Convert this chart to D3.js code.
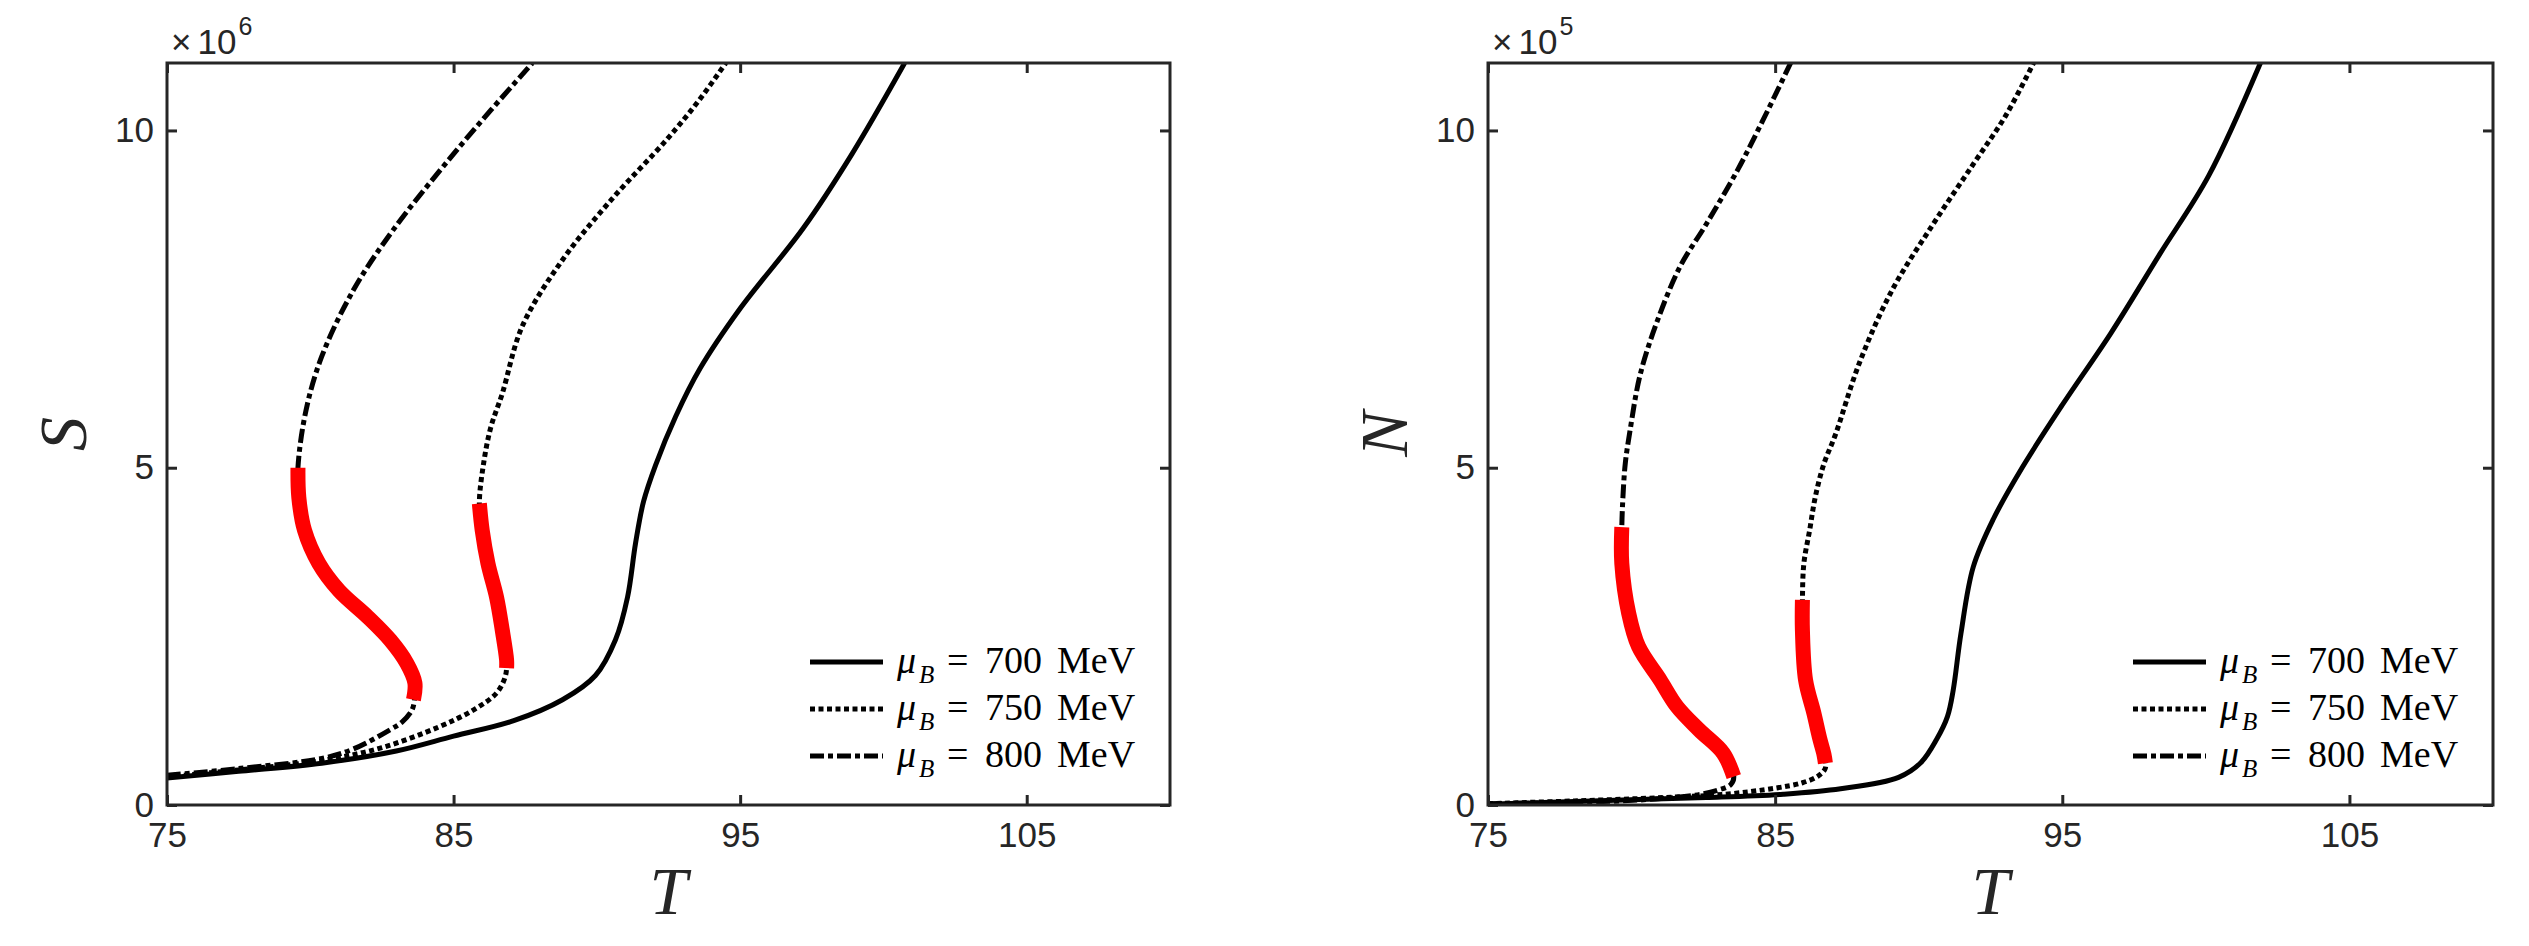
<!DOCTYPE html>
<html>
<head>
<meta charset="utf-8">
<script src="https://cdn.jsdelivr.net/npm/d3@7"></script>
<style>
  body { margin: 0; background: #fff; }
  svg { display: block; }
</style>
</head>
<body>
<svg id="chart" width="2529" height="946"></svg>
<script>
// tick values / legend text
const xTicks = [75, 85, 95, 105];
const yTicks = [0, 5, 10];
const legendValues = ["700", "750", "800"];

// left panel : S (x 10^6) vs T
const sT700 = [75, 77.5, 80.4, 83, 85, 87.1, 88.8, 89.95, 90.65, 91.07, 91.35, 91.63, 92.05, 92.75, 93.6, 95.0, 97.2, 98.9, 100.74];
const sS700 = [0.40, 0.50, 0.62, 0.80, 1.02, 1.25, 1.56, 1.92, 2.45, 3.08, 3.88, 4.50, 5.04, 5.76, 6.47, 7.36, 8.55, 9.65, 11.0];

const sT750 = [75, 77.5, 80.4, 82.5, 84.5, 85.7, 86.5, 86.8, 86.85, 86.7, 86.5, 86.2, 86.0, 85.9, 86.05, 86.3, 86.7, 87.4, 88.8, 90.5, 92.45, 93.57, 94.5];
const sS750 = [0.42, 0.52, 0.66, 0.85, 1.16, 1.41, 1.66, 1.90, 2.10, 2.59, 3.08, 3.58, 4.07, 4.47, 5.07, 5.60, 6.10, 7.10, 8.08, 8.97, 9.87, 10.45, 11.0];
const sRedT750 = [86.85, 86.85, 86.7, 86.5, 86.2, 86.0, 85.9];
const sRedS750 = [2.03, 2.15, 2.59, 3.08, 3.58, 4.07, 4.47];

const sT800 = [75, 77.5, 80.4, 81.5, 82.8, 83.2, 83.55, 83.65, 83.65, 83.37, 82.8, 82.0, 81.0, 80.3, 79.8, 79.6, 79.57, 79.85, 80.4, 81.5, 82.9, 84.9, 86.3, 87.75];
const sS800 = [0.44, 0.54, 0.69, 0.83, 1.12, 1.23, 1.41, 1.62, 1.81, 2.10, 2.44, 2.79, 3.18, 3.58, 4.07, 4.56, 5.00, 5.85, 6.65, 7.63, 8.53, 9.60, 10.30, 11.0];
const sRedT800 = [83.6, 83.65, 83.37, 82.8, 82.0, 81.0, 80.3, 79.8, 79.6, 79.57];
const sRedS800 = [1.56, 1.81, 2.10, 2.44, 2.79, 3.18, 3.58, 4.07, 4.56, 5.00];

// right panel : N (x 10^5) vs T
const nT700 = [75, 78.6, 82.6, 85.28, 87.28, 89.3, 90.08, 90.62, 91.0, 91.2, 91.47, 91.9, 92.6, 93.6, 95.0, 96.7, 98.4, 100.1, 101.9];
const nN700 = [0.01, 0.06, 0.11, 0.16, 0.24, 0.41, 0.63, 0.97, 1.31, 1.70, 2.54, 3.53, 4.24, 5.00, 5.93, 7.00, 8.17, 9.33, 11.0];

const nT750 = [75, 78, 81.1, 83.27, 85.0, 85.95, 86.5, 86.75, 86.7, 86.55, 86.35, 86.06, 85.95, 85.95, 86.0, 86.2, 86.4, 86.7, 87.1, 87.94, 89.07, 90.5, 91.9, 93.03, 94.0];
const nN750 = [0.02, 0.06, 0.11, 0.16, 0.25, 0.33, 0.43, 0.55, 0.75, 0.99, 1.36, 1.85, 2.59, 3.04, 3.58, 4.07, 4.57, 5.06, 5.49, 6.56, 7.63, 8.61, 9.50, 10.22, 11.0];
const nRedT750 = [86.75, 86.7, 86.55, 86.35, 86.06, 85.95, 85.95];
const nRedN750 = [0.62, 0.75, 0.99, 1.36, 1.85, 2.59, 3.04];

const nT800 = [75, 78, 80.5, 82.3, 83.0, 83.45, 83.56, 83.19, 82.36, 81.58, 81.0, 80.24, 79.9, 79.66, 79.66, 79.7, 79.78, 79.95, 80.3, 80.9, 81.7, 82.6, 83.7, 84.55, 85.54];
const nN800 = [0.02, 0.04, 0.08, 0.15, 0.22, 0.30, 0.42, 0.77, 1.11, 1.46, 1.85, 2.35, 2.84, 3.58, 4.12, 4.57, 5.06, 5.56, 6.38, 7.18, 7.99, 8.61, 9.42, 10.13, 11.0];
const nRedT800 = [83.56, 83.19, 82.36, 81.58, 81.0, 80.24, 79.9, 79.66, 79.66];
const nRedN800 = [0.42, 0.77, 1.11, 1.46, 1.85, 2.35, 2.84, 3.58, 4.12];

const axisColor = "#262626";
const sansFont = "Liberation Sans, Arial, sans-serif";
const serifFont = "Liberation Serif, Times New Roman, serif";
const dashes = [null, "5,3.5", "14,4,5,4"];

const svg = d3.select("#chart");
svg.append("rect").attr("width", 2529).attr("height", 946).attr("fill", "#fff");

function zip(a, b) { return a.map((d, i) => [d, b[i]]); }

function drawPanel(opts) {
    var x = d3.scaleLinear().domain([75, 110]).range([opts.left, opts.right]);
    var y = d3.scaleLinear().domain([0, 11]).range([805, 63]);

    var g = svg.append("g");
    var clipId = "clip" + opts.name;
    g.append("clipPath").attr("id", clipId)
      .append("rect")
        .attr("x", x(75)).attr("y", y(11))
        .attr("width", x(110) - x(75)).attr("height", y(0) - y(11));

    var line = d3.line()
        .x(d => x(d[0]))
        .y(d => y(d[1]))
        .curve(d3.curveCatmullRom.alpha(0.5));

    var plot = g.append("g").attr("clip-path", "url(#" + clipId + ")");

    // black curves
    opts.curves.forEach((c, i) => {
        plot.append("path")
            .datum(zip(c[0], c[1]))
            .attr("fill", "none")
            .attr("stroke", "#000")
            .attr("stroke-width", 5)
            .attr("stroke-dasharray", dashes[i])
            .attr("d", line);
    });

    // red unstable branches
    opts.red.forEach(c => {
        plot.append("path")
            .datum(zip(c[0], c[1]))
            .attr("fill", "none")
            .attr("stroke", "#ff0000")
            .attr("stroke-width", 15)
            .attr("d", line);
    });

    // axes, ticks inside on all four sides
    g.append("g")
        .attr("transform", "translate(0," + y(0) + ")")
        .call(d3.axisBottom(x).tickValues(xTicks).tickSizeInner(-10).tickSizeOuter(0).tickPadding(17))
        .call(a => a.select(".domain").remove())
        .call(a => a.selectAll("line").attr("stroke", axisColor).attr("stroke-width", 3))
        .call(a => a.selectAll("text").attr("fill", axisColor).attr("font-family", sansFont).attr("font-size", 35).attr("dy", "0.71em"));
    g.append("g")
        .attr("transform", "translate(0," + y(11) + ")")
        .call(d3.axisTop(x).tickValues(xTicks).tickSizeInner(-10).tickSizeOuter(0).tickFormat(""))
        .call(a => a.select(".domain").remove())
        .call(a => a.selectAll("line").attr("stroke", axisColor).attr("stroke-width", 3));
    g.append("g")
        .attr("transform", "translate(" + x(75) + ",0)")
        .call(d3.axisLeft(y).tickValues(yTicks).tickSizeInner(-10).tickSizeOuter(0).tickPadding(13))
        .call(a => a.select(".domain").remove())
        .call(a => a.selectAll("line").attr("stroke", axisColor).attr("stroke-width", 3))
        .call(a => a.selectAll("text").attr("fill", axisColor).attr("font-family", sansFont).attr("font-size", 35));
    g.append("g")
        .attr("transform", "translate(" + x(110) + ",0)")
        .call(d3.axisRight(y).tickValues(yTicks).tickSizeInner(-10).tickSizeOuter(0).tickFormat(""))
        .call(a => a.select(".domain").remove())
        .call(a => a.selectAll("line").attr("stroke", axisColor).attr("stroke-width", 3));

    // box
    g.append("rect")
        .attr("x", x(75)).attr("y", y(11))
        .attr("width", x(110) - x(75)).attr("height", y(0) - y(11))
        .attr("fill", "none")
        .attr("stroke", axisColor)
        .attr("stroke-width", 3);

    // exponent label
    var ex = g.append("text")
        .attr("x", x(75) + 4).attr("y", 54)
        .attr("fill", axisColor)
        .attr("font-family", sansFont)
        .attr("font-size", 35);
    ex.append("tspan").text("\u00d7");
    ex.append("tspan").attr("dx", 6).text("10");
    ex.append("tspan").attr("font-size", 25).attr("dy", -19).attr("dx", 2).text(opts.exponent);

    // axis labels
    g.append("text")
        .attr("x", (x(75) + x(110)) / 2).attr("y", 914)
        .attr("text-anchor", "middle")
        .attr("font-family", serifFont)
        .attr("font-style", "italic")
        .attr("font-size", 68)
        .attr("fill", axisColor)
        .text("T");
    g.append("text")
        .attr("transform", "translate(" + (x(75) - 81) + ",434) rotate(-90)")
        .attr("text-anchor", "middle")
        .attr("font-family", serifFont)
        .attr("font-style", "italic")
        .attr("font-size", 68)
        .attr("fill", axisColor)
        .text(opts.ylabel);

    // legend
    var lx = x(110) - 360;
    legendValues.forEach((val, i) => {
        var ly = 662 + i * 47;
        g.append("line")
            .attr("x1", lx).attr("x2", lx + 73)
            .attr("y1", ly).attr("y2", ly)
            .attr("stroke", "#000")
            .attr("stroke-width", 5)
            .attr("stroke-dasharray", dashes[i]);
        var t = g.append("g")
            .attr("font-family", serifFont)
            .attr("font-size", 38)
            .attr("fill", "#000");
        var mu = t.append("text").attr("x", lx + 87).attr("y", ly + 11).attr("font-style", "italic");
        mu.append("tspan").text("\u03bc");
        mu.append("tspan").attr("font-size", 25).attr("dy", 10).attr("dx", 3).text("B");
        t.append("text").attr("x", lx + 137).attr("y", ly + 11).text("=");
        t.append("text").attr("x", lx + 175).attr("y", ly + 11).text(val);
        t.append("text").attr("x", lx + 247).attr("y", ly + 11).text("MeV");
    });
}

drawPanel({
    name: "S", left: 167, right: 1170, ylabel: "S", exponent: "6",
    curves: [[sT700, sS700], [sT750, sS750], [sT800, sS800]],
    red: [[sRedT750, sRedS750], [sRedT800, sRedS800]]
});

drawPanel({
    name: "N", left: 1488, right: 2493, ylabel: "N", exponent: "5",
    curves: [[nT700, nN700], [nT750, nN750], [nT800, nN800]],
    red: [[nRedT750, nRedN750], [nRedT800, nRedN800]]
});
</script>
</body>
</html>
